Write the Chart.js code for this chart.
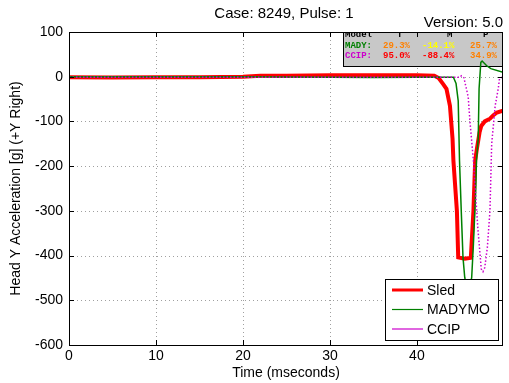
<!DOCTYPE html>
<html>
<head>
<meta charset="utf-8">
<script src="https://cdn.jsdelivr.net/npm/chart.js@4/dist/chart.umd.min.js"></script>
<style>
html,body{margin:0;padding:0;background:#fff;}
canvas{display:block;}
</style>
</head>
<body>
<canvas id="c" width="509" height="383"></canvas>
<script>
// ---- data (time in ms, acceleration in g) ----
const sledT = [0, 5, 10, 15, 20, 22, 25, 30, 35, 40, 42, 42.5, 43.0, 43.4, 43.8, 44.1, 44.2, 44.6, 44.75, 45.5, 46.2, 46.5, 46.7, 46.9, 47.2, 47.4, 47.8, 48.4, 48.8, 49.2, 49.9];
const sledY = [-1, -2, -1, -1, 0, 2, 2, 3, 3, 3, 2, -3, -16, -27, -65, -139, -188, -300, -404, -407, -405, -300, -188, -161, -125, -110, -100, -94, -86, -80, -76];

const madyT = [0, 10, 20, 30, 35, 40, 44.2, 44.5, 44.75, 44.9, 45.1, 45.3, 45.5, 45.8, 46.1, 46.3, 46.5, 46.75, 46.85, 47.05, 47.15, 47.35, 47.5, 48.0, 48.5, 49.9];
const madyY = [0, 0, 0, -1, -2, -1, -1, -15, -54, -188, -300, -404, -449, -480, -470, -449, -374, -262, -188, -139, -27, 32, 35, 25, 18, 10];

const ccipT = [0, 10, 20, 30, 40, 45.0, 45.1, 45.4, 45.9, 46.1, 46.5, 47.0, 47.4, 47.6, 47.8, 48.1, 48.4, 48.6, 49.0, 49.35, 49.5, 49.9];
const ccipY = [-1, -1, -1, -1, -1, -1, 2, -2, -45, -100, -188, -337, -430, -436, -427, -382, -300, -150, -65, -27, -4, 0];

const seriesNames = ['Sled', 'MADYMO', 'CCIP'];
const xTicks = [0, 10, 20, 30, 40];
const yTicks = [100, 0, -100, -200, -300, -400, -500, -600];

const statHeader = ['Model', 'T', 'M', 'P'];
const statRows = [
  ['MADY:', '29.3%', '-14.1%', '25.7%'],
  ['CCIP:', '95.0%', '-88.4%', '34.9%']
];
const statColors = [
  ['#008000', '#ff8000', '#ffff00', '#ff8000'],
  ['#cc00cc', '#ff0000', '#ff0000', '#ff8000']
];

const titleText = 'Case: 8249, Pulse: 1';
const versionText = 'Version: 5.0';

function pts(t, y) { return t.map((v, i) => ({x: v, y: y[i]})); }

const FONT = "'Liberation Sans', Arial, sans-serif";
const MONO = "'Liberation Mono', 'Courier New', monospace";

const decor = {
  id: 'decor',
  beforeDatasetsDraw(chart) {
    const ctx = chart.ctx, a = chart.chartArea;
    const xs = chart.scales.x, ys = chart.scales.y;
    ctx.save();
    ctx.strokeStyle = '#a0a0a0';
    ctx.lineWidth = 1;
    ctx.setLineDash([1, 3]);
    xTicks.forEach(v => {
      const px = Math.round(xs.getPixelForValue(v)) + 0.5;
      ctx.beginPath(); ctx.moveTo(px, a.top); ctx.lineTo(px, a.bottom); ctx.stroke();
    });
    yTicks.forEach(v => {
      const py = Math.round(ys.getPixelForValue(v)) + 0.5;
      ctx.beginPath(); ctx.moveTo(a.left, py); ctx.lineTo(a.right, py); ctx.stroke();
    });
    ctx.setLineDash([]);
    // stats box
    const bx = 343, by = a.top, bw = a.right - 343, bh = 34;
    ctx.fillStyle = '#c8c8c8';
    ctx.fillRect(bx, by, bw, bh);
    ctx.strokeStyle = '#000';
    ctx.strokeRect(bx + 0.5, by + 0.5, bw - 1, bh);
    ctx.save();
    ctx.beginPath(); ctx.rect(bx, by + 1, bw, bh); ctx.clip();
    ctx.font = 'bold 9px ' + MONO;
    ctx.textBaseline = 'alphabetic';
    ctx.textAlign = 'left';
    const cols = [345, 383, 422, 470];
    const hcols = [345, 397, 447, 483];
    ctx.fillStyle = '#000';
    statHeader.forEach((s, i) => ctx.fillText(s, hcols[i], by + 5));
    statRows.forEach((row, r) => {
      row.forEach((s, i) => {
        ctx.fillStyle = statColors[r][i];
        ctx.fillText(s, cols[i], by + 16 + r * 10);
      });
    });
    ctx.restore();
    ctx.restore();
  },
  afterDraw(chart) {
    const ctx = chart.ctx, a = chart.chartArea;
    const xs = chart.scales.x, ys = chart.scales.y;
    ctx.save();
    // axes box
    ctx.strokeStyle = '#000';
    ctx.lineWidth = 1;
    ctx.strokeRect(a.left + 0.5, a.top + 0.5, a.right - a.left - 1, a.bottom - a.top);
    // inward ticks
    ctx.beginPath();
    xTicks.forEach(v => {
      const px = Math.round(xs.getPixelForValue(v)) + 0.5;
      ctx.moveTo(px, a.bottom); ctx.lineTo(px, a.bottom - 5);
      ctx.moveTo(px, a.top); ctx.lineTo(px, a.top + 5);
    });
    yTicks.forEach(v => {
      const py = Math.round(ys.getPixelForValue(v)) + 0.5;
      ctx.moveTo(a.left, py); ctx.lineTo(a.left + 5, py);
      ctx.moveTo(a.right, py); ctx.lineTo(a.right - 5, py);
    });
    ctx.stroke();
    // title & version
    ctx.fillStyle = '#000';
    ctx.font = '15px ' + FONT;
    ctx.textAlign = 'center';
    ctx.textBaseline = 'middle';
    ctx.fillText(titleText, 284, 14);
    ctx.textAlign = 'right';
    ctx.fillText(versionText, 503, 23);
    // legend
    const lx = 385, ly = 279, lw = 113, lh = 61;
    ctx.fillStyle = '#fff';
    ctx.fillRect(lx, ly, lw, lh);
    ctx.strokeStyle = '#000';
    ctx.lineWidth = 1;
    ctx.strokeRect(lx + 0.5, ly + 0.5, lw, lh);
    chart.data.datasets.forEach((ds, i) => {
      const yy = 290 + i * 19.5;
      ctx.strokeStyle = ds.borderColor;
      ctx.lineWidth = i === 0 ? 3 : 1.2;
      ctx.setLineDash([]);
      ctx.beginPath(); ctx.moveTo(392, yy); ctx.lineTo(423, yy); ctx.stroke();
      ctx.fillStyle = '#000';
      ctx.font = '14px ' + FONT;
      ctx.textAlign = 'left';
      ctx.textBaseline = 'middle';
      ctx.fillText(ds.label, 427, yy + 1);
    });
    ctx.restore();
  }
};

new Chart(document.getElementById('c'), {
  type: 'line',
  data: {
    datasets: [
      {label: seriesNames[0], data: pts(sledT, sledY), borderColor: '#ff0000', borderWidth: 4, pointRadius: 0, tension: 0, order: 3},
      {label: seriesNames[1], data: pts(madyT, madyY), borderColor: '#008000', borderWidth: 1.5, pointRadius: 0, tension: 0, order: 2},
      {label: seriesNames[2], data: pts(ccipT, ccipY), borderColor: '#cc00cc', borderWidth: 1.5, borderDash: [1.5, 2], pointRadius: 0, tension: 0, order: 1}
    ]
  },
  options: {
    responsive: false,
    animation: false,
    devicePixelRatio: 1,
    layout: {padding: {top: 32, right: 6, left: 0, bottom: 0}},
    plugins: {legend: {display: false}, tooltip: {enabled: false}, title: {display: false}},
    scales: {
      x: {
        type: 'linear', min: 0, max: 49.9,
        afterBuildTicks: s => { s.ticks = xTicks.map(v => ({value: v})); },
        afterFit: s => { s.height = 38; },
        grid: {display: false, drawTicks: false},
        border: {display: false},
        ticks: {color: '#000', font: {family: FONT, size: 14}, padding: 3, maxRotation: 0},
        title: {display: true, text: 'Time (mseconds)', color: '#000', font: {family: FONT, size: 14}, padding: {top: 0, bottom: 1}}
      },
      y: {
        type: 'linear', min: -600, max: 100,
        afterBuildTicks: s => { s.ticks = yTicks.map(v => ({value: v})); },
        afterFit: s => { s.width = 69; },
        grid: {display: false, drawTicks: false},
        border: {display: false},
        ticks: {color: '#000', font: {family: FONT, size: 14}, padding: 6},
        title: {display: true, text: 'Head Y Acceleration [g] (+Y Right)', color: '#000', font: {family: FONT, size: 14}, padding: {top: 8, bottom: 0}}
      }
    }
  },
  plugins: [decor]
});
</script>
</body>
</html>
